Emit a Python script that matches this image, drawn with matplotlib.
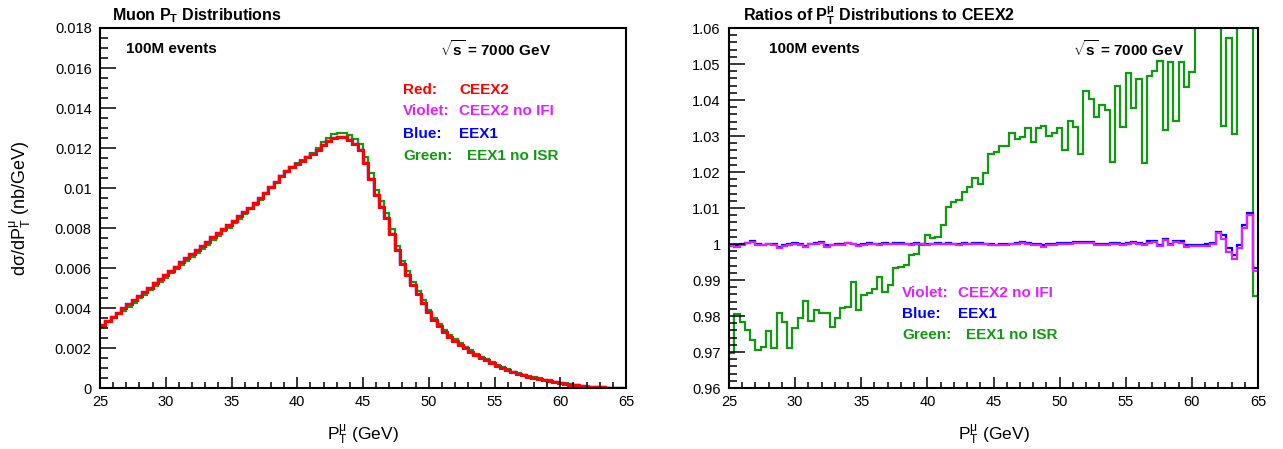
import numpy as np
import matplotlib
matplotlib.use("Agg")
import matplotlib.pyplot as plt
from matplotlib.ticker import MultipleLocator, FuncFormatter

plt.rcParams['font.family'] = ['Liberation Sans', 'DejaVu Sans']
plt.rcParams['mathtext.fontset'] = 'custom'
plt.rcParams['mathtext.rm'] = 'Liberation Sans'
plt.rcParams['mathtext.it'] = 'Liberation Sans:italic'
plt.rcParams['mathtext.bf'] = 'Liberation Sans:bold'
plt.rcParams['mathtext.sf'] = 'Liberation Sans'

# binning: 100 bins of 0.4 GeV from 25 to 65
pt_edges = np.linspace(25.0, 65.0, 101)

# CEEX2 muon pT distribution (nb/GeV), one value per bin
ceex2 = [
    0.00314, 0.00335, 0.00356, 0.00377, 0.00398, 0.00419, 0.00440, 0.00460, 0.00481, 0.00502,
    0.00523, 0.00544, 0.00565, 0.00586, 0.00607, 0.00628, 0.00649, 0.00670, 0.00690, 0.00711,
    0.00732, 0.00753, 0.00774, 0.00795, 0.00816, 0.00837, 0.00858, 0.00879, 0.00902, 0.00925,
    0.00950, 0.00977, 0.01004, 0.01032, 0.01062, 0.01085, 0.01103, 0.01120, 0.01137, 0.01153,
    0.01170, 0.01190, 0.01215, 0.01237, 0.01250, 0.01257, 0.01253, 0.01242, 0.01222, 0.01190,
    0.01125, 0.01045, 0.00965, 0.00905, 0.00850, 0.00770, 0.00690, 0.00620, 0.00565, 0.00515,
    0.00470, 0.00425, 0.00380, 0.00342, 0.00308, 0.00280, 0.00257, 0.00235, 0.00215, 0.00198,
    0.00182, 0.00166, 0.00152, 0.00138, 0.00124, 0.00112, 0.00100, 0.00089, 0.00080, 0.00072,
    0.00064, 0.00057, 0.00051, 0.00046, 0.00041, 0.00036, 0.00031, 0.00026, 0.00021, 0.00017,
    0.00013, 0.00010, 0.00007, 0.00005, 0.00004, 0.00003, 0.00002, 0.00001, 0.00001, 0.000005,
]

# ratios to CEEX2
ratio_noifi = [
    0.9995, 0.9993, 0.9998, 1.0002, 1.0005, 0.9997, 0.9996, 0.9999, 0.9998, 0.9990,
    0.9995, 0.9997, 1.0001, 0.9998, 0.9992, 0.9999, 1.0000, 1.0003, 0.9993, 0.9996,
    0.9997, 0.9998, 1.0002, 0.9999, 0.9994, 0.9998, 1.0000, 0.9999, 0.9998, 1.0000,
    0.9999, 1.0000, 1.0001, 0.9999, 0.9998, 1.0000, 0.9999, 0.9998, 0.9999, 1.0000,
    0.9999, 1.0000, 0.9999, 0.9998, 1.0000, 0.9999, 1.0001, 1.0000, 0.9999, 0.9998,
    0.9996, 0.9998, 0.9997, 0.9999, 1.0000, 1.0003, 1.0001, 0.9998, 0.9997, 0.9993,
    0.9996, 0.9997, 0.9999, 1.0000, 1.0001, 1.0002, 1.0003, 1.0003, 1.0002, 0.9998,
    0.9997, 0.9998, 1.0000, 0.9999, 0.9998, 1.0000, 1.0002, 1.0001, 0.9998, 1.0004,
    1.0006, 0.9994, 1.0010, 0.9998, 1.0005, 1.0003, 0.9993, 0.9994, 0.9994, 0.9994,
    0.9995, 1.0000, 1.0030, 1.0013, 0.9979, 0.9957, 0.9988, 1.0045, 1.0080, 0.9926,
]
ratio_eex1 = [
    0.9997, 0.9996, 1.0000, 1.0004, 1.0007, 0.9999, 0.9998, 1.0001, 1.0000, 0.9993,
    0.9997, 0.9999, 1.0003, 1.0000, 0.9995, 1.0001, 1.0002, 1.0005, 0.9996, 0.9998,
    0.9999, 1.0000, 1.0004, 1.0001, 0.9996, 1.0000, 1.0002, 1.0001, 1.0000, 1.0002,
    1.0001, 1.0002, 1.0003, 1.0001, 1.0000, 1.0002, 1.0001, 1.0000, 1.0001, 1.0002,
    1.0001, 1.0002, 1.0001, 1.0000, 1.0002, 1.0001, 1.0003, 1.0002, 1.0001, 1.0000,
    0.9998, 1.0000, 0.9999, 1.0001, 1.0002, 1.0006, 1.0004, 1.0001, 1.0000, 0.9996,
    0.9999, 1.0000, 1.0002, 1.0003, 1.0004, 1.0005, 1.0006, 1.0006, 1.0005, 1.0001,
    1.0000, 1.0001, 1.0003, 1.0002, 1.0001, 1.0003, 1.0005, 1.0004, 1.0001, 1.0007,
    1.0009, 0.9997, 1.0014, 1.0001, 1.0009, 1.0007, 0.9997, 0.9998, 0.9998, 0.9998,
    0.9999, 1.0004, 1.0034, 1.0025, 0.9988, 0.9969, 0.9997, 1.0053, 1.0085, 0.9934,
]
ratio_noisr = [
    0.9698, 0.9806, 0.9784, 0.9761, 0.9732, 0.9706, 0.9715, 0.9757, 0.9710, 0.9807,
    0.9782, 0.9710, 0.9766, 0.9794, 0.9842, 0.9787, 0.9817, 0.9807, 0.9807, 0.9770,
    0.9794, 0.9821, 0.9826, 0.9895, 0.9817, 0.9858, 0.9863, 0.9874, 0.9909, 0.9868,
    0.9886, 0.9932, 0.9937, 0.9942, 0.9969, 0.9972, 0.9997, 1.0025, 1.0018, 1.0020,
    1.0053, 1.0102, 1.0118, 1.0122, 1.0145, 1.0159, 1.0182, 1.0168, 1.0196, 1.0250,
    1.0256, 1.0272, 1.0272, 1.0307, 1.0291, 1.0296, 1.0321, 1.0282, 1.0321, 1.0328,
    1.0300, 1.0307, 1.0323, 1.0261, 1.0343, 1.0326, 1.0250, 1.0426, 1.0402, 1.0354,
    1.0386, 1.0372, 1.0227, 1.0439, 1.0324, 1.0474, 1.0379, 1.0459, 1.0224, 1.0467,
    1.0481, 1.0509, 1.0317, 1.0506, 1.0342, 1.0505, 1.0435, 1.0479, 1.0750, 1.0900,
    1.0700, 1.0800, 1.1000, 1.0328, 1.0571, 1.0306, 1.0800, 1.0700, 1.0900, 0.9856,
]

c_red = '#ff0000'
c_violet = '#dd22ff'
c_blue = '#0000ff'
c_green = '#119911'

ceex2 = np.array(ceex2)
noifi = ceex2 * np.array(ratio_noifi)
eex1 = ceex2 * np.array(ratio_eex1)
noisr = ceex2 * np.array(ratio_noisr)

W, H = 1283, 449
fig = plt.figure(figsize=(W / 100, H / 100), dpi=100)

def px(x, y):
    return x / W, 1 - y / H

def style_axes(ax, ymaj, ymin):
    for s in ax.spines.values():
        s.set_linewidth(1.5)
    ax.xaxis.set_major_locator(MultipleLocator(5))
    ax.xaxis.set_minor_locator(MultipleLocator(1))
    ax.yaxis.set_major_locator(MultipleLocator(ymaj))
    ax.yaxis.set_minor_locator(MultipleLocator(ymin))
    ax.tick_params(axis='both', which='both', direction='in', top=False, right=False,
                   labelsize=10.5, width=1.1)
    ax.tick_params(axis='y', which='major', length=11.5, pad=6)
    ax.tick_params(axis='y', which='minor', length=5.8)
    ax.tick_params(axis='x', which='major', length=7.9, pad=5)
    ax.tick_params(axis='x', which='minor', length=4)

# ---- left panel
ax1 = fig.add_axes([100 / W, 61 / H, 526 / W, 360 / H])
ax1.stairs(noisr, pt_edges, baseline=None, color=c_green, lw=1.6)
ax1.stairs(eex1, pt_edges, baseline=None, color=c_blue, lw=1.6)
ax1.stairs(noifi, pt_edges, baseline=None, color=c_violet, lw=1.6)
ax1.stairs(ceex2, pt_edges, baseline=None, color=c_red, lw=2.2)
ax1.set_xlim(25, 65)
ax1.set_ylim(0, 0.018)
style_axes(ax1, 0.002, 0.0005)
ax1.yaxis.set_major_formatter(FuncFormatter(lambda v, p: ('%g' % round(v, 4))))
ax1.set_xlabel(r'P$_{\mathrm{T}}^{\mathrm{\mu}}$ (GeV)', fontsize=12.5)
ax1.set_ylabel(r'd$\mathrm{\sigma}$/dP$_{\mathrm{T}}^{\mathrm{\mu}}$ (nb/GeV)', fontsize=13)
ax1.xaxis.set_label_coords(0.5, -0.095)
ax1.yaxis.set_label_coords(-0.128, 0.5)

# ---- right panel
ax2 = fig.add_axes([729 / W, 61 / H, 529 / W, 360 / H])
ax2.stairs(ratio_noisr, pt_edges, baseline=None, color=c_green, lw=1.6)
ax2.stairs(ratio_eex1, pt_edges, baseline=None, color=c_blue, lw=1.6)
ax2.stairs(ratio_noifi, pt_edges, baseline=None, color=c_violet, lw=1.6)
ax2.set_xlim(25, 65)
ax2.set_ylim(0.96, 1.06)
style_axes(ax2, 0.01, 0.002)
ax2.yaxis.set_major_formatter(FuncFormatter(lambda v, p: ('%g' % round(v, 3))))
ax2.set_xlabel(r'P$_{\mathrm{T}}^{\mathrm{\mu}}$ (GeV)', fontsize=12.5)
ax2.xaxis.set_label_coords(0.5, -0.095)

# titles
fig.text(*px(112, 16), r'Muon P$_{\mathbf{T}}$ Distributions', fontsize=11.5,
         fontweight='bold', va='center', ha='left')
fig.text(*px(743, 16), r'Ratios of P$_{\mathbf{T}}^{\mathbf{\mu}}$ Distributions to CEEX2',
         fontsize=11.5, fontweight='bold', va='center', ha='left')

# annotations
for x0, xs in [(126, 440), (769, 1073)]:
    fig.text(*px(x0, 49), '100M events', fontsize=11, fontweight='bold', va='center')
    fig.text(*px(xs, 49), r'$\sqrt{\mathbf{s}}$ = 7000 GeV', fontsize=11,
             fontweight='bold', va='center')

left_legend = [
    ('Red:', 'CEEX2', c_red, 90, 459),
    ('Violet:', 'CEEX2 no IFI', c_violet, 111, 459),
    ('Blue:', 'EEX1', c_blue, 134, 459),
    ('Green:', 'EEX1 no ISR', c_green, 156, 467),
]
for lab, name, col, yy, xn in left_legend:
    fig.text(*px(403, yy), lab, color=col, fontsize=11, fontweight='bold', va='center')
    fig.text(*px(xn, yy), name, color=col, fontsize=11, fontweight='bold', va='center')

right_legend = [
    ('Violet:', 'CEEX2 no IFI', c_violet, 293, 958),
    ('Blue:', 'EEX1', c_blue, 314, 958),
    ('Green:', 'EEX1 no ISR', c_green, 335, 966),
]
for lab, name, col, yy, xn in right_legend:
    fig.text(*px(902, yy), lab, color=col, fontsize=11, fontweight='bold', va='center')
    fig.text(*px(xn, yy), name, color=col, fontsize=11, fontweight='bold', va='center')

fig.savefig('out.png', dpi=100)
